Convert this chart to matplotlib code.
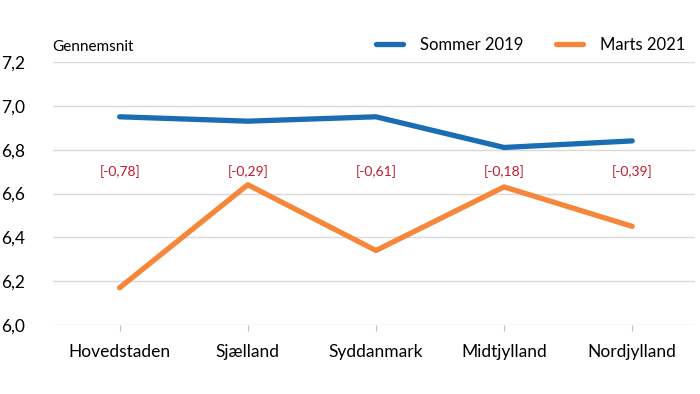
import matplotlib
matplotlib.use("Agg")
import matplotlib.pyplot as plt
from matplotlib.ticker import FuncFormatter

categories = ["Hovedstaden", "Sjælland", "Syddanmark", "Midtjylland", "Nordjylland"]
sommer_2019 = [6.95, 6.93, 6.95, 6.81, 6.84]
marts_2021 = [6.17, 6.64, 6.34, 6.63, 6.45]
diff_labels = ["[-0,78]", "[-0,29]", "[-0,61]", "[-0,18]", "[-0,39]"]
yticks = [6.0, 6.2, 6.4, 6.6, 6.8, 7.0, 7.2]

plt.rcParams['font.family'] = ['Lato', 'DejaVu Sans']

fig = plt.figure(figsize=(7, 3.94), dpi=100)
ax = fig.add_axes([53/700, 69/394, 642/700, 263/394])

x = list(range(len(categories)))
ax.plot(x, sommer_2019, color="#1a6db5", lw=3.8, solid_capstyle="round", label="Sommer 2019", zorder=3)
ax.plot(x, marts_2021, color="#f5863a", lw=3.8, solid_capstyle="round", label="Marts 2021", zorder=3)

for xi, lab in zip(x, diff_labels):
    ax.text(xi, 6.70, lab, color="#c0192e", ha="center", va="center", fontsize=10)

ax.set_ylim(6.0, 7.2)
ax.set_xlim(-0.52, 4.49)
ax.set_yticks(yticks)
ax.yaxis.set_major_formatter(FuncFormatter(lambda v, p: f"{v:.1f}".replace(".", ",")))
ax.grid(axis="y", color="#d9d9d9", lw=1)
ax.set_axisbelow(True)
for s in ax.spines.values():
    s.set_visible(False)
ax.set_xticks(x)
ax.set_xticklabels(categories, fontsize=12.5)
ax.tick_params(axis="x", length=4, color="#bfbfbf", pad=10)
ax.tick_params(axis="y", length=0, pad=20, labelsize=12.5)

fig.text(52/700, 1 - 47/394, "Gennemsnit", fontsize=11, va="center", ha="left")
leg = ax.legend(loc="lower right", bbox_to_anchor=(0.995, 1.01), ncol=2, frameon=False,
                fontsize=12, handlelength=1.6, handletextpad=1.0, columnspacing=2.0,
                borderaxespad=0)

fig.savefig("out.png", dpi=100)
